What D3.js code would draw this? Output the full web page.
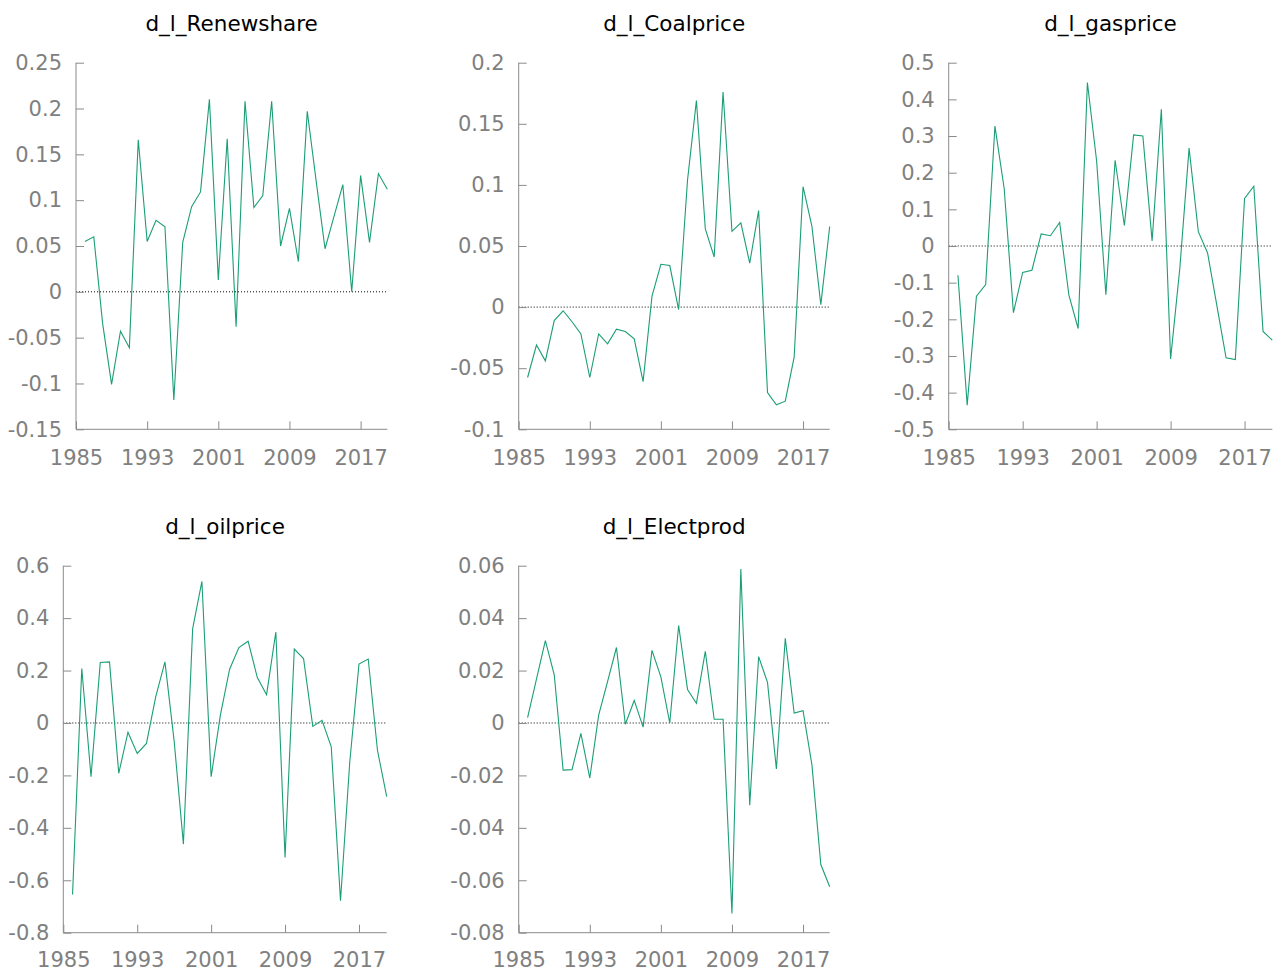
<!DOCTYPE html>
<html>
<head>
<meta charset="utf-8">
<script src="https://cdn.jsdelivr.net/npm/d3@7"></script>
<style>
  html, body { margin: 0; padding: 0; background: #fff; }
  svg { display: block; }
</style>
</head>
<body>
<svg id="chart" width="1282" height="972"></svg>
<script>
// ---------- data ----------
const years = d3.range(1986, 2021);
const xTicks = [1985, 1993, 2001, 2009, 2017];

const seriesNames = ["d_l_Renewshare", "d_l_Coalprice", "d_l_gasprice", "d_l_oilprice", "d_l_Electprod"];

const renewshare = [0.055, 0.060, -0.035, -0.101, -0.043, -0.061, 0.166, 0.055, 0.078, 0.071,
  -0.118, 0.054, 0.093, 0.109, 0.210, 0.013, 0.167, -0.038, 0.208, 0.092,
  0.105, 0.208, 0.050, 0.091, 0.033, 0.197, 0.121, 0.047, 0.082, 0.117,
  0.000, 0.127, 0.054, 0.129, 0.112];

const coalprice = [-0.0576, -0.031, -0.044, -0.011, -0.003, -0.012, -0.022, -0.0576, -0.022, -0.030,
  -0.018, -0.020, -0.026, -0.061, 0.009, 0.035, 0.034, -0.002, 0.104, 0.169,
  0.064, 0.041, 0.176, 0.062, 0.069, 0.036, 0.079, -0.070, -0.080, -0.077,
  -0.041, 0.0985, 0.066, 0.002, 0.066];

const gasprice = [-0.080, -0.434, -0.137, -0.105, 0.327, 0.157, -0.182, -0.072, -0.066, 0.033,
  0.028, 0.064, -0.134, -0.225, 0.446, 0.232, -0.133, 0.234, 0.056, 0.303,
  0.300, 0.014, 0.373, -0.308, -0.060, 0.267, 0.039, -0.019, -0.162, -0.305,
  -0.310, 0.130, 0.163, -0.233, -0.257];

const oilprice = [-0.654, 0.208, -0.205, 0.231, 0.233, -0.192, -0.035, -0.116, -0.078, 0.100,
  0.233, -0.070, -0.462, 0.360, 0.540, -0.205, 0.030, 0.205, 0.288, 0.312,
  0.173, 0.108, 0.347, -0.513, 0.282, 0.246, -0.013, 0.010, -0.091, -0.678,
  -0.150, 0.225, 0.244, -0.104, -0.281];

const electprod = [0.002, 0.0167, 0.0314, 0.0184, -0.018, -0.0178, -0.004, -0.021, 0.003, 0.0158,
  0.0288, -0.0005, 0.0086, -0.0016, 0.0277, 0.0176, 0.0, 0.0372, 0.0128, 0.0075,
  0.0273, 0.0014, 0.0014, -0.0727, 0.0587, -0.0314, 0.0253, 0.0155, -0.0175, 0.0323,
  0.0038, 0.0047, -0.016, -0.054, -0.0625];

const yTicksRenew = [-0.15, -0.1, -0.05, 0, 0.05, 0.1, 0.15, 0.2, 0.25];
const yTicksCoal  = [-0.1, -0.05, 0, 0.05, 0.1, 0.15, 0.2];
const yTicksGas   = [-0.5, -0.4, -0.3, -0.2, -0.1, 0, 0.1, 0.2, 0.3, 0.4, 0.5];
const yTicksOil   = [-0.8, -0.6, -0.4, -0.2, 0, 0.2, 0.4, 0.6];
const yTicksElec  = [-0.08, -0.06, -0.04, -0.02, 0, 0.02, 0.04, 0.06];

// ---------- layout ----------
const panels = [
  { name: seriesNames[0], values: renewshare, ticks: yTicksRenew, x0: 76,    x1: 387.3,  y0: 62.7,  y1: 429.3, xpad: 21 },
  { name: seriesNames[1], values: coalprice,  ticks: yTicksCoal,  x0: 518.7, x1: 829.7,  y0: 62.7,  y1: 429.3, xpad: 21 },
  { name: seriesNames[2], values: gasprice,   ticks: yTicksGas,   x0: 948.7, x1: 1272.3, y0: 62.7,  y1: 429.3, xpad: 21 },
  { name: seriesNames[3], values: oilprice,   ticks: yTicksOil,   x0: 63.3,  x1: 386.7,  y0: 565.7, y1: 932.7, xpad: 19 },
  { name: seriesNames[4], values: electprod,  ticks: yTicksElec,  x0: 518.7, x1: 829.7,  y0: 565.7, y1: 932.7, xpad: 19 }
];

const lineColor = "#1b9e77";
const axisColor = "#8a8a8a";
const labelColor = "#808080";
const fontFam = "'DejaVu Sans', Verdana, sans-serif";
const tickFont = 21;
const titleFont = 21.5;

const svg = d3.select("#chart");

panels.forEach(p => {
  const g = svg.append("g");
  const x = d3.scaleLinear().domain([1985, 2020]).range([p.x0, p.x1]);
  const y = d3.scaleLinear().domain([p.ticks[0], p.ticks[p.ticks.length - 1]]).range([p.y1, p.y0]);

  // zero dotted line
  g.append("line")
    .attr("x1", p.x0).attr("x2", p.x1)
    .attr("y1", y(0)).attr("y2", y(0))
    .attr("stroke", "#000").attr("stroke-width", 1)
    .attr("stroke-dasharray", "1,2");

  // y axis
  const yAxis = d3.axisLeft(y).tickValues(p.ticks).tickSize(-8).tickPadding(14)
    .tickFormat(d => String(+d.toFixed(4)));
  const ya = g.append("g").attr("transform", `translate(${p.x0},0)`).call(yAxis);
  ya.select(".domain").attr("stroke", axisColor).attr("d", `M0,${p.y0}V${p.y1}`);
  ya.selectAll(".tick line").attr("stroke", axisColor);
  ya.selectAll(".tick text").attr("fill", labelColor)
    .attr("font-family", fontFam).attr("font-size", tickFont);

  // x axis
  const xAxis = d3.axisBottom(x).tickValues(xTicks).tickSize(-8).tickPadding(p.xpad)
    .tickFormat(d3.format("d"));
  const xa = g.append("g").attr("transform", `translate(0,${p.y1})`).call(xAxis);
  xa.select(".domain").attr("stroke", axisColor).attr("d", `M${p.x0},0H${p.x1}`);
  xa.selectAll(".tick line").attr("stroke", axisColor);
  xa.selectAll(".tick text").attr("fill", labelColor)
    .attr("font-family", fontFam).attr("font-size", tickFont);

  // series line
  const line = d3.line().x((d, i) => x(years[i])).y(d => y(d));
  g.append("path")
    .datum(p.values)
    .attr("d", line)
    .attr("fill", "none")
    .attr("stroke", lineColor)
    .attr("stroke-width", 1.1)
    .attr("stroke-linejoin", "miter");

  // title
  g.append("text")
    .attr("x", (p.x0 + p.x1) / 2)
    .attr("y", p.y0 - 32)
    .attr("text-anchor", "middle")
    .attr("font-family", fontFam)
    .attr("font-size", titleFont)
    .attr("fill", "#000")
    .text(p.name);
});
</script>
</body>
</html>
